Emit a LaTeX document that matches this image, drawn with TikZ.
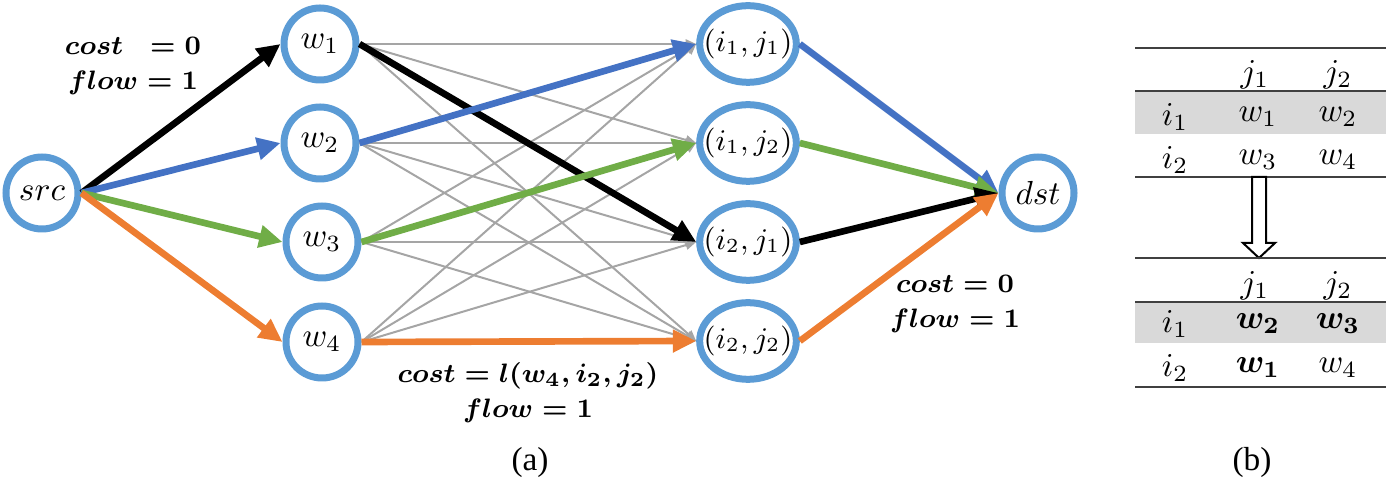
\documentclass[tikz,border=0pt]{standalone}
\usepackage{amsmath}
\usepackage{fontspec}
\setmainfont{Liberation Serif}
\usetikzlibrary{shapes.geometric, arrows.meta}

\definecolor{ringblue}{RGB}{91,155,213}
\definecolor{flowblue}{RGB}{68,114,196}
\definecolor{flowgreen}{RGB}{112,173,71}
\definecolor{floworange}{RGB}{237,125,49}
\definecolor{edgegray}{RGB}{165,165,165}
\definecolor{bandgray}{RGB}{217,217,217}
\definecolor{rulegray}{RGB}{64,64,64}

\tikzset{
    vertex/.style = {circle, draw=ringblue, line width=2.1pt, minimum size=21.6pt, inner sep=0pt},
    pair/.style = {ellipse, draw=ringblue, line width=2.1pt, minimum width=29pt, minimum height=23pt, inner sep=0pt, font=\small},
}
\tikzset{
    flow edge/.style = {line width=2pt, -{Triangle[length=7pt,width=6.5pt]}},
    gray edge/.style = {draw=edgegray, line width=0.6pt, -{Triangle[length=3.2pt,width=2.8pt]}},
    table rule/.style = {draw=rulegray, line width=0.6pt},
    cost label/.style = {align=center, font=\footnotesize, inner sep=0pt},
}
\newcommand{\cellpair}[2]{\makebox[0pt]{$(i_{#1},j_{#2})$}}
\newcommand{\flowtext}[1]{$\boldsymbol{#1}$}

\begin{document}
\begin{tikzpicture}[x=0.3pt, y=-0.3pt]
        \useasboundingbox (0,0) rectangle (1386,480);

        \node[vertex] (src) at (42,193) {$src$};

        \node[vertex] (w1) at (320,44) {$w_1$};
        \node[vertex] (w2) at (320,143) {$w_2$};
        \node[vertex] (w3) at (322,242) {$w_3$};
        \node[vertex] (w4) at (322,342) {$w_4$};

        \node[pair] (11) at (748,44) {\cellpair{1}{1}};
        \node[pair] (12) at (748,143) {\cellpair{1}{2}};
        \node[pair] (21) at (748,242) {\cellpair{2}{1}};
        \node[pair] (22) at (748,341) {\cellpair{2}{2}};

        \node[vertex] (dst) at (1038,193) {$dst$};

        % every worker to every cell
        \draw[gray edge] (w1.east) -- (11.west);
        \draw[gray edge] (w1.east) -- (12.west);
        \draw[gray edge] (w1.east) -- (21.west);
        \draw[gray edge] (w1.east) -- (22.west);
        \draw[gray edge] (w2.east) -- (11.west);
        \draw[gray edge] (w2.east) -- (12.west);
        \draw[gray edge] (w2.east) -- (21.west);
        \draw[gray edge] (w2.east) -- (22.west);
        \draw[gray edge] (w3.east) -- (11.west);
        \draw[gray edge] (w3.east) -- (12.west);
        \draw[gray edge] (w3.east) -- (21.west);
        \draw[gray edge] (w3.east) -- (22.west);
        \draw[gray edge] (w4.east) -- (11.west);
        \draw[gray edge] (w4.east) -- (12.west);
        \draw[gray edge] (w4.east) -- (21.west);
        \draw[gray edge] (w4.east) -- (22.west);

        % chosen flow
        \draw[flow edge, black] (src.east) -- (w1.west);
        \draw[flow edge, flowblue] (src.east) -- (w2.west);
        \draw[flow edge, flowgreen] (src.east) -- (w3.west);
        \draw[flow edge, floworange] (src.east) -- (w4.west);
        \draw[flow edge, black] (w1.east) -- (21.west);
        \draw[flow edge, flowblue] (w2.east) -- (11.west);
        \draw[flow edge, flowgreen] (w3.east) -- (12.west);
        \draw[flow edge, floworange] (w4.east) -- (22.west);
        \draw[flow edge, flowblue] (11.east) -- (dst.west);
        \draw[flow edge, flowgreen] (12.east) -- (dst.west);
        \draw[flow edge, black] (21.east) -- (dst.west);
        \draw[flow edge, floworange] (22.east) -- (dst.west);

        \node[cost label] (srccost) at (133,66) {\flowtext{cost\;\;=0}\\[1pt]\flowtext{flow=1}};
        \node[cost label] (midcost) at (528,393) {\flowtext{cost=l(w_4,i_2,j_2)}\\[1pt]\flowtext{flow=1}};
        \node[cost label] (dstcost) at (955,304) {\flowtext{cost=0}\\[1pt]\flowtext{flow=1}};

        \node (capa) at (530,462) {(a)};
        \node (capb) at (1252,462) {(b)};

        % table before
        \fill[bandgray] (1135,91) rectangle (1386,134);
        \draw[table rule] (1135,48) -- (1386,48);
        \draw[table rule] (1135,91) -- (1386,91);
        \draw[table rule] (1135,177) -- (1386,177);
        \node (tj1) at (1255,75) {$j_1$};
        \node (tj2) at (1338,75) {$j_2$};
        \node (ti1) at (1175,117) {$i_1$};
        \node (tw1) at (1258,117) {$w_1$};
        \node (tw2) at (1338,117) {$w_2$};
        \node (ti2) at (1175,160) {$i_2$};
        \node (tw3) at (1258,160) {$w_3$};
        \node (tw4) at (1338,160) {$w_4$};

        % hollow arrow
        \draw[fill=white, line width=0.6pt] (1252,177) -- (1252,243) -- (1243,243) -- (1259,258)
            -- (1275,243) -- (1266,243) -- (1266,177) -- cycle;

        % table after
        \fill[bandgray] (1135,302) rectangle (1386,343);
        \draw[table rule] (1135,258) -- (1386,258);
        \draw[table rule] (1135,302) -- (1386,302);
        \draw[table rule] (1135,387) -- (1386,387);
        \node (bj1) at (1255,286) {$j_1$};
        \node (bj2) at (1338,286) {$j_2$};
        \node (bi1) at (1175,324) {$i_1$};
        \node (bw2) at (1258,324) {$\boldsymbol{w_2}$};
        \node (bw3) at (1338,324) {$\boldsymbol{w_3}$};
        \node (bi2) at (1175,368) {$i_2$};
        \node (bw1) at (1258,368) {$\boldsymbol{w_1}$};
        \node (bw4) at (1338,368) {$w_4$};
    \end{tikzpicture}
\end{document}
